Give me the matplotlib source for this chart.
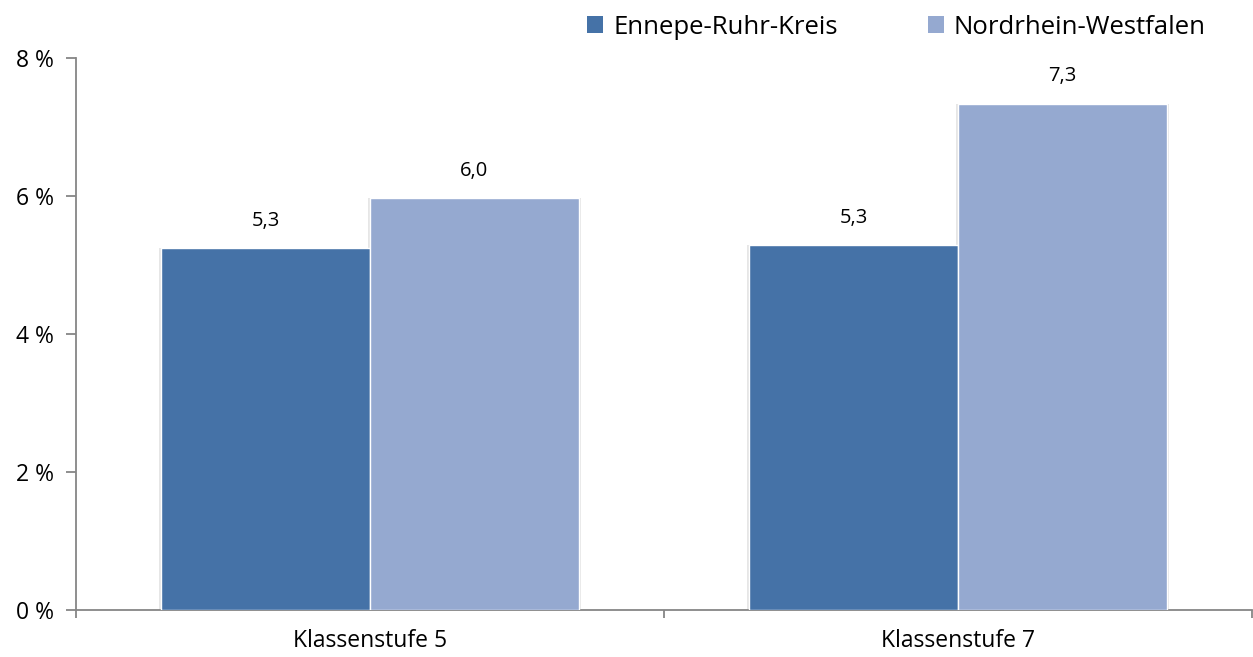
import matplotlib
matplotlib.use("Agg")
import matplotlib.pyplot as plt
import numpy as np
from matplotlib.patches import Patch

categories = ["Klassenstufe 5", "Klassenstufe 7"]
series_names = ["Ennepe-Ruhr-Kreis", "Nordrhein-Westfalen"]
ennepe = [5.25, 5.29]
nrw = [5.97, 7.34]
ennepe_labels = ["5,3", "5,3"]
nrw_labels = ["6,0", "7,3"]
yticks = [0, 2, 4, 6, 8]
ytick_labels = ["0 %", "2 %", "4 %", "6 %", "8 %"]

plt.rcParams['font.family'] = ['Open Sans', 'DejaVu Sans']
c1 = "#4572A7"
c2 = "#95A9D0"
axis_col = "#868686"

fig = plt.figure(figsize=(12.53, 6.57), dpi=100)
W, H = 1253, 657
ax = fig.add_axes([76 / W, (H - 610) / H, (1252 - 76) / W, 552 / H])

x = np.arange(len(categories))
w = 0.355
off = w / 2
b1 = ax.bar(x - off, ennepe, width=w, color=c1, edgecolor="white", linewidth=1, zorder=3)
b2 = ax.bar(x + off, nrw, width=w, color=c2, edgecolor="white", linewidth=1, zorder=3)
# subtle shadows
ax.bar(x - off, ennepe, width=w * 1.02, color="#e6e6e6", zorder=2)
ax.bar(x + off, nrw, width=w * 1.02, color="#e6e6e6", zorder=2)

for bars, labels in ((b1, ennepe_labels), (b2, nrw_labels)):
    for r, lab in zip(bars, labels):
        ax.annotate(lab, (r.get_x() + r.get_width() / 2, r.get_height()),
                    xytext=(0, 19.5), textcoords="offset points",
                    ha="center", va="center", fontsize=14.5, color="black")

ax.set_xlim(-0.5, 1.5)
ax.set_ylim(0, 8)
ax.set_yticks(yticks)
ax.set_yticklabels(ytick_labels, fontsize=16.5)
ax.set_xticks([-0.5, 0.5, 1.5])
ax.set_xticklabels([])
ax.set_xticks(x, minor=True)
ax.set_xticklabels(categories, minor=True, fontsize=16.5)
ax.tick_params(axis="x", which="minor", length=0, pad=14)
ax.tick_params(axis="x", which="major", length=6, color=axis_col, width=1.3)
ax.tick_params(axis="y", length=7, color=axis_col, width=1.3, pad=9)

for s in ["top", "right"]:
    ax.spines[s].set_visible(False)
for s in ["left", "bottom"]:
    ax.spines[s].set_color(axis_col)
    ax.spines[s].set_linewidth(1.3)

handles = [Patch(facecolor=c1, label=series_names[0]), Patch(facecolor=c2, label=series_names[1])]
fig.legend(handles=handles, loc="center left", bbox_to_anchor=(587 / W, 1 - 27 / H), ncol=2,
           frameon=False, fontsize=18.5, handlelength=0.62, handleheight=0.62,
           handletextpad=0.4, columnspacing=3.5, borderaxespad=0, borderpad=0)

fig.savefig("out.png", dpi=100)
